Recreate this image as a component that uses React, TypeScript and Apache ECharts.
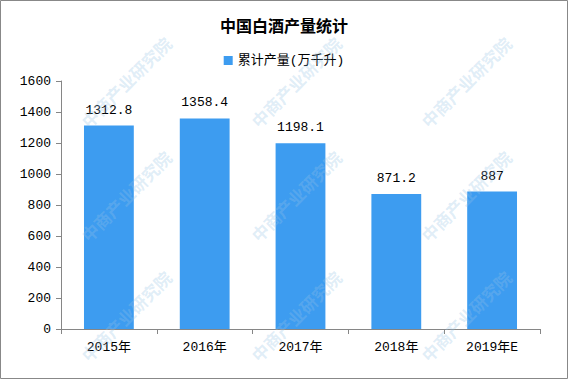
import React, { useEffect, useRef } from "react";
import * as echarts from "echarts";

const categories = ["2015年", "2016年", "2017年", "2018年", "2019年E"];
const values = [1312.8, 1358.4, 1198.1, 871.2, 887];
const seriesName = "累计产量(万千升)";
const title = "中国白酒产量统计";

const FONT = "'Liberation Mono','Noto Sans CJK SC',monospace";

export default function App() {
  const ref = useRef<HTMLDivElement>(null);
  useEffect(() => {
    document.body.style.margin = "0";
    const chart = echarts.init(ref.current!, null, { renderer: "svg" });
    const marks: any[] = [];
    const xs = [78, 248, 418];
    const ys = [118, 232, 352];
    ys.forEach((y) =>
      xs.forEach((x) => {
        marks.push({
          type: "text",
          x: x,
          y: y,
          rotation: Math.PI / 4,
          silent: true,
          z: 100,
          style: {
            text: "中商产业研究院",
            fill: "rgba(150,195,230,0.3)",
            font: "bold 17px 'Noto Sans CJK SC'",
          },
        });
      })
    );
    chart.setOption({
      animation: false,
      backgroundColor: "#fff",
      title: {
        text: title,
        left: "center",
        top: 12,
        textStyle: { fontSize: 16, fontWeight: "bold", color: "#000", fontFamily: "'Noto Sans CJK SC'" },
      },
      legend: {
        top: 49,
        left: "center",
        itemWidth: 9,
        itemHeight: 9,
        itemGap: 4,
        textStyle: { fontSize: 13, color: "#000", fontFamily: FONT },
        data: [{ name: seriesName, icon: "rect" }],
      },
      grid: { left: 61, right: 28, top: 81, bottom: 50 },
      xAxis: {
        type: "category",
        data: categories,
        axisLine: { lineStyle: { color: "#868686" } },
        axisTick: { show: true, length: 5, lineStyle: { color: "#868686" } },
        axisLabel: { color: "#000", fontSize: 13, fontFamily: FONT, margin: 12 },
      },
      yAxis: {
        type: "value",
        min: 0,
        max: 1600,
        interval: 200,
        splitLine: { show: false },
        axisLine: { show: true, lineStyle: { color: "#868686" } },
        axisTick: { show: true, length: 5, lineStyle: { color: "#868686" } },
        axisLabel: {
          color: "#000",
          fontSize: 13,
          fontFamily: FONT,
          margin: 10,
          formatter: (v: number) => String(v),
        },
      },
      series: [
        {
          name: seriesName,
          type: "bar",
          data: values,
          barWidth: "52%",
          itemStyle: { color: "#3d9cf0" },
          label: {
            show: true,
            position: "top",
            distance: 9,
            color: "#000",
            fontSize: 13,
            fontFamily: FONT,
          },
        },
      ],
      graphic: [
        ...marks,
        {
          type: "rect",
          shape: { x: 0.5, y: 0.5, width: 567, height: 378 },
          style: { fill: "none", stroke: "#888", lineWidth: 1 },
          silent: true,
          z: 200,
        },
      ],
    });
    return () => chart.dispose();
  }, []);
  return <div ref={ref} style={{ width: 568, height: 379, position: "absolute", left: 0, top: 0 }} />;
}
